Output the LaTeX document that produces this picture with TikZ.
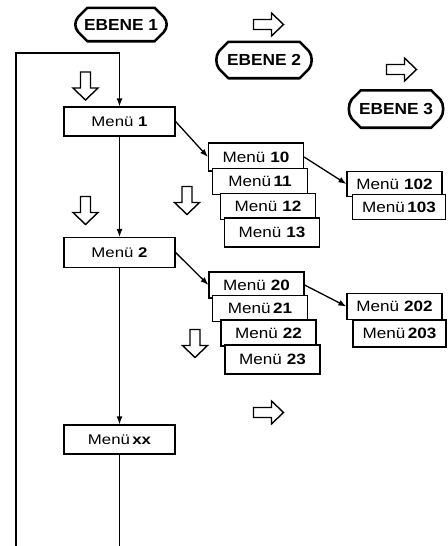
\documentclass[tikz,border=0pt]{standalone}
\usepackage{fontspec}
\setmainfont{Liberation Sans}
\newfontfamily\menufont[FakeStretch=1.2]{Liberation Sans}
\newfontfamily\subfont[FakeStretch=1.14]{Liberation Sans}
\newfontfamily\ebenefont[FakeStretch=1.08]{Liberation Sans}
\usetikzlibrary{calc,arrows.meta}
\tikzset{
  ebene/.style 2 args={draw=none, minimum width=#1, minimum height=#2, inner sep=0pt, font=\ebenefont\fontsize{16}{18}\selectfont\bfseries},
  ebeneline/.style={line width=2.6pt, line join=round},
  menu/.style={draw, line width=1.2pt, fill=white, minimum width=111pt, minimum height=29pt, inner sep=0pt, font=\menufont\fontsize{14}{16}\selectfont},
  sub/.style={draw, line width=1.2pt, fill=white, minimum width=95pt, minimum height=26pt, inner sep=0pt, font=\subfont\fontsize{15}{17}\selectfont},
  link/.style={line width=1.3pt},
  arr/.style={line width=1.3pt, -{Latex[length=8pt,width=6pt]}},
  hollow/.style={draw, line width=1.4pt, fill=white, line join=miter},
  pics/downarr/.style={code={\draw[hollow] (-5,-14) -- (5,-14) -- (5,2) -- (12.5,2) -- (0,14) -- (-12.5,2) -- (-5,2) -- cycle;}},
  pics/rightarr/.style={code={\draw[hollow] (-15,-5) -- (3,-5) -- (3,-11.5) -- (15,0) -- (3,11.5) -- (3,5) -- (-15,5) -- cycle;}}
}
\newcommand{\ebeneborder}[1]{%
  \draw[ebeneline] ($(#1.north west)+(12,0)$) -- ($(#1.north east)+(-12,0)$) -- ($(#1.north east)+(-3,9)$)
    .. controls ($(#1.north east)+(1,14)$) and ($(#1.south east)+(1,-14)$) .. ($(#1.south east)+(-3,-9)$)
    -- ($(#1.south east)+(-12,0)$) -- ($(#1.south west)+(12,0)$) -- ($(#1.south west)+(3,-9)$)
    .. controls ($(#1.south west)+(-1,-14)$) and ($(#1.north west)+(-1,14)$) .. ($(#1.north west)+(3,9)$) -- cycle;}
\begin{document}
\begin{tikzpicture}[x=1pt,y=-1pt]
\useasboundingbox (0,0) rectangle (447,546);
% level labels
\node[ebene={91pt}{33pt}] (e1) at (121,24.5) {EBENE 1};
\node[ebene={95pt}{36pt}] (e2) at (264,60) {EBENE 2};
\node[ebene={94pt}{37pt}] (e3) at (396,109) {EBENE 3};
\ebeneborder{e1}
\ebeneborder{e2}
\ebeneborder{e3}
% main menus
\node[menu] (m1) at (119.5,121.5) {Menü \textbf{1}};
\node[menu, minimum height=30pt] (m2) at (119.5,252.5) {Menü \textbf{2}};
\node[menu] (mxx) at (119.5,439.5) {Menü\,\textbf{xx}};
% submenus level 2, group 1
\node[sub, minimum height=28pt] (m10) at (256,157) {Menü \textbf{10}};
\node[sub] (m11) at (260,181.5) {Menü\,\textbf{11}};
\node[sub] (m12) at (268,206.5) {Menü \textbf{12}};
\node[sub, minimum height=29pt] (m13) at (272,232.5) {Menü \textbf{13}};
% group 2
\node[sub] (m20) at (256.5,285) {Menü \textbf{20}};
\node[sub] (m21) at (260,308.5) {Menü\,\textbf{21}};
\node[sub] (m22) at (268.5,333) {Menü \textbf{22}};
\node[sub, minimum height=29pt] (m23) at (272.5,359.5) {Menü \textbf{23}};
% level 3
\node[sub, minimum height=25pt] (m102) at (394.5,184) {Menü \textbf{102}};
\node[sub, minimum height=25pt, minimum width=93pt] (m103) at (399,207) {Menü\,\textbf{103}};
\node[sub, minimum height=26pt] (m202) at (394.5,306.5) {Menü \textbf{202}};
\node[sub, minimum height=27pt, minimum width=93pt] (m203) at (399.5,333.5) {Menü\,\textbf{203}};
% loop
\coordinate (bl) at (16,546);
\coordinate (br) at (119.5,546);
\coordinate (tl) at (16,53);
\coordinate (tr) at (119.5,53);
\draw[link] (bl) -- (tl) -- (tr);
\draw[arr] (tr) -- (m1.north);
\draw[arr] (m1.south) -- (m2.north);
\draw[arr] (m2.south) -- (mxx.north);
\draw[link] (mxx.south) -- (br);
% diagonal arrows
\draw[arr] (m1.east) -- (m10.west);
\draw[arr] (m10.east) -- (m102.west);
\draw[arr] (m2.east) -- (m20.west);
\draw[arr] (m20.east) -- (m202.west);
% hollow arrows
\pic at (85.5,86) {downarr};
\pic at (85.5,210.5) {downarr};
\pic at (187,200.5) {downarr};
\pic at (195,343.5) {downarr};
\pic at (268.5,24.5) {rightarr};
\pic at (401.5,69.5) {rightarr};
\pic at (268.5,412.5) {rightarr};
\end{tikzpicture}
\end{document}
